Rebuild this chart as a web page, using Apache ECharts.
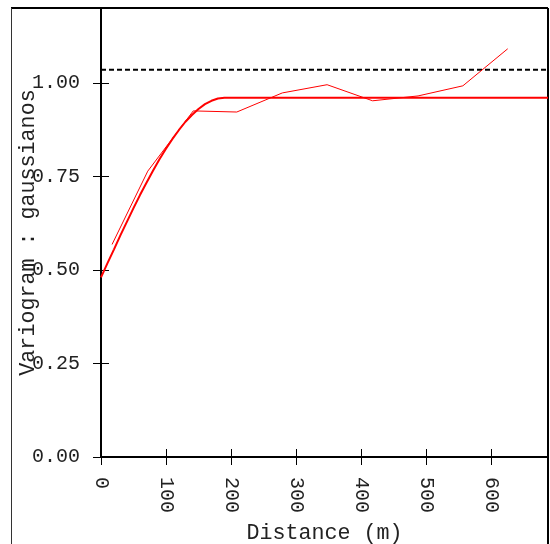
<!DOCTYPE html>
<html>
<head>
<meta charset="utf-8">
<script src="https://cdn.jsdelivr.net/npm/echarts@6/dist/echarts.min.js"></script>
<style>
  html, body { margin: 0; padding: 0; background: #fff; }
  #chart { width: 550px; height: 544px; }
</style>
</head>
<body>
<div id="chart"></div>
<script>
// fitted model (spherical)
const modelDist = [0, 10, 20, 30, 40, 50, 60, 70, 80, 90, 100, 110, 120, 130, 140, 150, 160, 170, 180, 190, 688]
const modelGamma = [0.48, 0.518, 0.555, 0.593, 0.629, 0.665, 0.7, 0.733, 0.765, 0.796, 0.824, 0.85, 0.874, 0.896, 0.914, 0.93, 0.943, 0.952, 0.958, 0.96, 0.96]
// experimental variogram (thin line)
const expDist = [17, 72, 142, 209, 279, 348, 418, 488, 557, 626]
const expGamma = [0.568, 0.764, 0.925, 0.922, 0.973, 0.995, 0.952, 0.965, 0.992, 1.091]
// sample variance (dashed)
const varianceDist = [0, 688]
const variance = 1.035

const xMax = 688
const yMax = 1.2
const font = 'Liberation Mono'

const chart = echarts.init(document.getElementById('chart'))

const zip = (xs, ys) => xs.map((x, i) => [x, ys[i]])

const axisLine = { show: true, lineStyle: { color: '#000', width: 2 } }
const innerTick = { show: true, inside: true, length: 8, lineStyle: { color: '#000', width: 1 } }

const option = {
  animation: false,
  grid: { left: 101, right: 2, top: 8, bottom: 87, containLabel: false, outerBoundsMode: 'none' },
  graphic: [
    { type: 'line', shape: { x1: 11, y1: 8, x2: 548, y2: 8 }, style: { stroke: '#000', lineWidth: 2 } },
    { type: 'line', shape: { x1: 11.5, y1: 8, x2: 11.5, y2: 544 }, style: { stroke: '#333', lineWidth: 1 } },
    { type: 'line', shape: { x1: 548, y1: 8, x2: 548, y2: 544 }, style: { stroke: '#000', lineWidth: 2 } }
  ],
  xAxis: [
    {
      type: 'value',
      min: 0,
      max: xMax,
      interval: 100,
      position: 'bottom',
      splitLine: { show: false },
      axisLine: axisLine,
      axisTick: innerTick,
      axisLabel: {
        rotate: -90,
        margin: 20,
        fontFamily: font,
        fontSize: 20,
        color: '#222',
        showMaxLabel: false
      },
      name: 'Distance (m)',
      nameLocation: 'middle',
      nameGap: 65,
      nameMoveOverlap: false,
      nameTextStyle: { fontFamily: font, fontSize: 21.7, color: '#222' }
    },
    {
      type: 'value',
      min: 0,
      max: xMax,
      interval: 100,
      position: 'top',
      splitLine: { show: false },
      axisLine: axisLine,
      axisTick: innerTick,
      axisLabel: { show: false }
    }
  ],
  yAxis: [
    {
      type: 'value',
      min: 0,
      max: yMax,
      interval: 0.25,
      position: 'left',
      splitLine: { show: false },
      axisLine: axisLine,
      axisTick: innerTick,
      axisLabel: {
        margin: 21,
        fontFamily: font,
        fontSize: 20,
        color: '#222',
        showMaxLabel: false,
        formatter: v => v.toFixed(2)
      },
      name: 'Variogram : gaussianos',
      nameLocation: 'middle',
      nameGap: 62,
      nameMoveOverlap: false,
      nameTextStyle: { fontFamily: font, fontSize: 21.7, color: '#222' }
    },
    {
      type: 'value',
      min: 0,
      max: yMax,
      interval: 0.25,
      position: 'right',
      splitLine: { show: false },
      axisLine: axisLine,
      axisTick: innerTick,
      axisLabel: { show: false }
    }
  ],
  series: [
    {
      name: 'variance',
      type: 'line',
      data: zip(varianceDist, varianceDist.map(() => variance)),
      symbol: 'none',
      lineStyle: { color: '#000', width: 2, type: [5, 3] }
    },
    {
      name: 'experimental',
      type: 'line',
      data: zip(expDist, expGamma),
      symbol: 'none',
      lineStyle: { color: '#ff0000', width: 1 }
    },
    {
      name: 'model',
      type: 'line',
      data: zip(modelDist, modelGamma),
      symbol: 'none',
      lineStyle: { color: '#ff0000', width: 2 }
    }
  ]
}

chart.setOption(option)
</script>
</body>
</html>
